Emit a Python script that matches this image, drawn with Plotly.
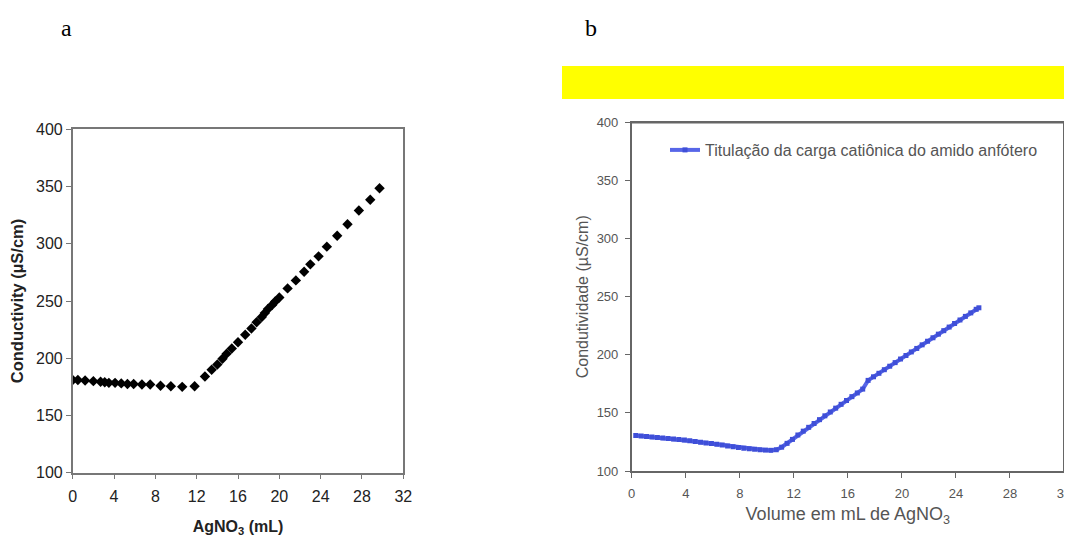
import plotly.graph_objects as go

# The page body has an 8px default margin, so the figure is drawn 8px smaller
OFF = 8
W, H = 1072 - OFF, 537 - OFF

# ---- data: panel a ----
a_volume = [0.0, 0.5, 1.2, 2.0, 2.7, 3.1, 3.5, 4.1, 4.7, 5.3, 5.9, 6.7, 7.5, 8.5, 9.5, 10.6, 11.8,
            12.8, 13.45, 14.0, 14.5, 14.9, 15.4, 16.0, 16.7, 17.3, 17.8, 18.3, 18.6, 18.9, 19.3, 19.6,
            20.0, 20.8, 21.6, 22.4, 23.0, 23.8, 24.6, 25.6, 26.6, 27.7, 28.8, 29.7]
a_conductivity = [181, 181, 180.5, 180, 179.5, 179, 178.5, 178.5, 178, 177.5, 177.5, 177, 177, 176, 175.5, 175, 175.5,
                  184, 190, 194.5, 199.5, 204, 208.5, 214, 220.5, 226, 231.5, 236, 239.5, 243, 246.5, 249.5,
                  253, 261, 268, 275.5, 282, 289, 297.5, 307, 317, 329, 338.5, 348.5]

# ---- data: panel b ----
b_volume = [0.3, 0.7, 1.1, 1.5, 1.9, 2.3, 2.7, 3.1, 3.5, 3.9, 4.3, 4.7, 5.1, 5.5, 5.9, 6.3, 6.7, 7.1, 7.5, 7.9,
            8.3, 8.7, 9.1, 9.5, 9.9, 10.3, 10.7, 11.1, 11.5, 11.9, 12.3, 12.7, 13.1, 13.5, 13.9, 14.3, 14.7, 15.1,
            15.5, 15.9, 16.3, 16.7, 17.1, 17.5, 17.9, 18.3, 18.7, 19.1, 19.5, 19.9, 20.3, 20.7, 21.1, 21.5, 21.9,
            22.3, 22.7, 23.1, 23.5, 23.9, 24.3, 24.7, 25.1, 25.5, 25.7]
b_conductivity = [130.5, 130.1, 129.7, 129.3, 128.8, 128.4, 128.0, 127.5, 127.1, 126.6, 126.0, 125.4, 124.8, 124.2,
                  123.6, 123.0, 122.3, 121.6, 120.9, 120.2, 119.6, 119.1, 118.7, 118.3, 118.0, 117.8, 118.3, 120.5,
                  123.8, 127.2, 131.0, 134.3, 137.6, 140.9, 144.2, 147.5, 150.8, 154.1, 157.4, 160.7, 164.0, 167.2,
                  170.5, 178.0, 181.1, 184.1, 187.2, 190.2, 193.3, 196.4, 199.4, 202.5, 205.5, 208.6, 211.7, 214.7,
                  217.8, 220.8, 223.9, 227.0, 230.0, 233.1, 236.1, 239.2, 240.5]
assert len(b_volume) == len(b_conductivity)
assert len(a_volume) == len(a_conductivity)

x_ticks = [0, 4, 8, 12, 16, 20, 24, 28, 32]
y_ticks = [100, 150, 200, 250, 300, 350, 400]
b_legend = "Titulação da carga catiônica do amido anfótero"

fig = go.Figure()
fig.add_trace(go.Scatter(x=a_volume, y=a_conductivity, mode="markers", xaxis="x", yaxis="y",
                         marker=dict(symbol="diamond", size=8, color="black"), showlegend=False))
fig.add_trace(go.Scatter(x=b_volume, y=b_conductivity, mode="lines+markers", xaxis="x2", yaxis="y2",
                         name=b_legend,
                         line=dict(color="#5766E8", width=4),
                         marker=dict(symbol="square", size=5, color="#3F4FD8"), showlegend=True))


def px_x(p):
    return (p - OFF) / W


def px_y(p):
    return 1 - (p - OFF) / H


axA = dict(showgrid=False, zeroline=False, showline=True, linecolor="#777", linewidth=1.5, mirror=True,
           ticks="outside", ticklen=5, tickcolor="#777", automargin=False, ticklabeloverflow="allow",
           tickfont=dict(family="Liberation Sans, Arial", size=16, color="#222"))
axB = dict(showgrid=False, zeroline=False, showline=True, linecolor="#666", linewidth=1.5, mirror=True,
           ticks="outside", ticklen=5, tickcolor="#666", automargin=False, ticklabeloverflow="allow",
           tickfont=dict(family="Liberation Sans, Arial", size=13, color="#555"))

bx0, bx1 = px_x(631.7), px_x(1064)
by0, by1 = px_y(471), px_y(122.5)

fig.update_layout(
    width=W, height=H, margin=dict(l=0, r=0, t=0, b=0),
    paper_bgcolor="white", plot_bgcolor="white",
    xaxis=dict(axA, domain=[px_x(72.7), px_x(403.3)], range=[0, 32], tickvals=x_ticks, anchor="y",
               ticklabelstandoff=3,
               title=dict(text="<b>AgNO<sub>3</sub> (mL)</b>", standoff=18,
                          font=dict(family="Liberation Sans, Arial", size=16, color="#222"))),
    yaxis=dict(axA, domain=[px_y(472.7), px_y(129.3)], range=[100, 400], tickvals=y_ticks, anchor="x",
               title=dict(text="<b>Conductivity (µS/cm)</b>", standoff=9,
                          font=dict(family="Liberation Sans, Arial", size=16.5, color="#222"))),
    xaxis2=dict(axB, domain=[bx0, bx1], range=[0, 32], tickvals=x_ticks, anchor="y2",
                ticklabelstandoff=5,
                title=dict(text="Volume em mL de AgNO<sub>3</sub>", standoff=7,
                           font=dict(family="Liberation Sans, Arial", size=18, color="#555"))),
    yaxis2=dict(axB, domain=[by0, by1], range=[100, 400], tickvals=y_ticks, anchor="x2",
                ticklabelstandoff=4,
                title=dict(text="Condutividade (µS/cm)", standoff=4,
                           font=dict(family="Liberation Sans, Arial", size=16, color="#555"))),
    legend=dict(x=px_x(665), y=px_y(150), xanchor="left", yanchor="middle", bgcolor="rgba(0,0,0,0)",
                font=dict(family="Liberation Sans, Arial", size=16, color="#555"), itemwidth=30),
    shapes=[
        dict(type="rect", xref="paper", yref="paper", x0=px_x(562), x1=1, y0=px_y(99), y1=px_y(66),
             fillcolor="#FFFF00", line=dict(width=0), layer="above"),
        # top and right edges of the panel b frame
        dict(type="line", xref="paper", yref="paper", x0=bx0, x1=bx1, y0=by1, y1=by1,
             line=dict(color="#666666", width=2), layer="above"),
        dict(type="line", xref="paper", yref="paper", x0=bx1, x1=bx1, y0=by0, y1=by1,
             line=dict(color="#666666", width=2), layer="above"),
    ],
    annotations=[
        dict(text="a", xref="paper", yref="paper", x=px_x(66), y=px_y(28), xanchor="center", yanchor="middle",
             showarrow=False, font=dict(family="Liberation Serif, Times New Roman", size=24, color="black")),
        dict(text="b", xref="paper", yref="paper", x=px_x(591), y=px_y(28), xanchor="center", yanchor="middle",
             showarrow=False, font=dict(family="Liberation Serif, Times New Roman", size=24, color="black")),
    ],
)

fig.write_html("out.html")
